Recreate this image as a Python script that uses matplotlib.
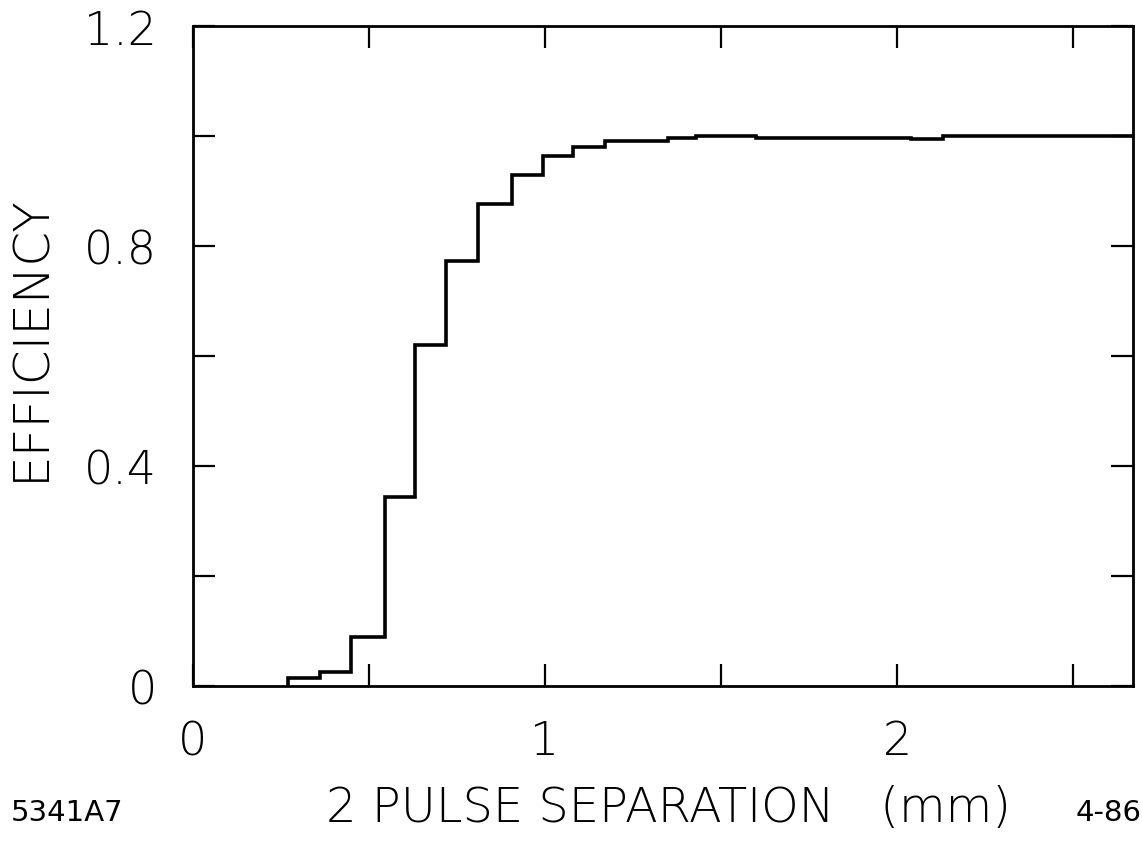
import matplotlib
matplotlib.use('Agg')
import matplotlib.pyplot as plt
from matplotlib.ticker import MultipleLocator

# bin edges (mm) and efficiency per bin
edges = [0.27, 0.36, 0.45, 0.545, 0.63, 0.72, 0.81, 0.905, 0.995, 1.08,
         1.17, 1.35, 1.43, 1.60, 2.04, 2.13, 2.67]
efficiency = [0.014, 0.025, 0.089, 0.344, 0.62, 0.773, 0.876, 0.93, 0.964,
              0.98, 0.991, 0.996, 1.0, 0.996, 0.994, 1.0]

xticks = [0, 1, 2]
yticks = [0, 0.4, 0.8, 1.2]
yticklabels = ['0', '0.4', '0.8', '1.2']

FONT = 'DejaVu Sans'


def main():
    fig = plt.figure(figsize=(11.42, 8.45), dpi=100)
    ax = fig.add_axes([0.169, 0.187, 0.823, 0.781])

    xs = [edges[0]]
    ys = [0.0]
    for i, v in enumerate(efficiency):
        xs += [edges[i], edges[i + 1]]
        ys += [v, v]
    ax.plot(xs, ys, color='black', lw=2.6, solid_joinstyle='miter')

    ax.set_xlim(0, 2.67)
    ax.set_ylim(0, 1.2)
    ax.set_xticks(xticks)
    ax.set_xticklabels([str(t) for t in xticks])
    ax.set_yticks(yticks)
    ax.set_yticklabels(yticklabels)
    ax.xaxis.set_minor_locator(MultipleLocator(0.5))
    ax.yaxis.set_minor_locator(MultipleLocator(0.2))
    for which in ('major', 'minor'):
        ax.tick_params(which=which, direction='in', length=16, width=1.6,
                       top=True, right=True)
    ax.tick_params(axis='x', pad=24)
    ax.tick_params(axis='y', pad=26)
    for lab in ax.get_xticklabels() + ax.get_yticklabels():
        lab.set_fontfamily(FONT)
        lab.set_fontweight('light')
        lab.set_fontsize(33)
    for s in ax.spines.values():
        s.set_linewidth(2.0)

    fig.text(0.027, 0.60, 'EFFICIENCY', rotation=90, ha='center',
             va='center', fontsize=36, family=FONT, fontweight='light')
    fig.text(0.585, 0.043, '2 PULSE SEPARATION   (mm)', ha='center',
             va='center', fontsize=34.5, family=FONT, fontweight='light')
    fig.text(0.009, 0.038, '5341A7', ha='left', va='center', fontsize=21,
             family=FONT)
    fig.text(1.0, 0.038, '4-86', ha='right', va='center', fontsize=21,
             family=FONT)

    fig.savefig('out.png', dpi=100)


if __name__ == '__main__':
    main()
